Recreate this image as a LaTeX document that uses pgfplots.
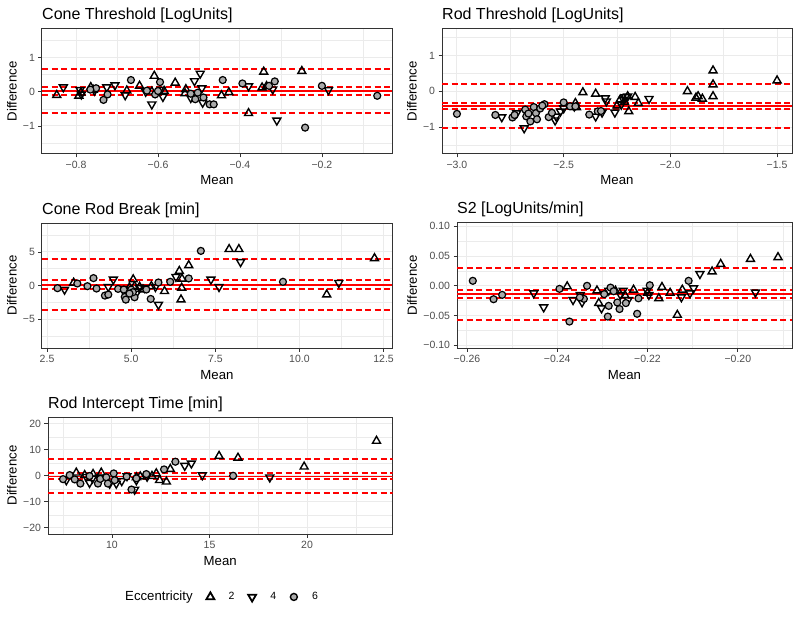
\documentclass[border=0pt]{standalone}
\usepackage{fontspec}
\setmainfont{Liberation Sans}
\usepackage{pgfplots}
\pgfplotsset{compat=1.18}
\definecolor{gridc}{HTML}{EBEBEB}
\definecolor{framec}{HTML}{333333}
\definecolor{tickc}{HTML}{4D4D4D}
\definecolor{ptfill}{HTML}{AAAAAA}
\definecolor{lred}{HTML}{FF0000}
\pgfplotsset{
 ba/.style={
  scale only axis, anchor=south west,
  axis line style={framec, line width=1pt},
  tick style={framec, line width=0.8pt},
  major tick length=3.5pt, minor tick length=0pt,
  tick align=outside, xtick pos=bottom, ytick pos=left,
  grid=both,
  major grid style={gridc, line width=1pt},
  minor grid style={gridc, line width=0.5pt},
  ticklabel style={font=\fontsize{10.5}{12}\selectfont, text=tickc},
  label style={font=\fontsize{13.2}{15}\selectfont},
  title style={font=\fontsize{16}{19}\selectfont, at={(axis description cs:0,1)}, anchor=base west, inner sep=0pt, yshift=3pt},
  xlabel={Mean}, ylabel={Difference},
  xlabel style={at={(axis description cs:0.5,0)}, anchor=base, yshift=-31pt},
  unbounded coords=jump,
 },
 up/.style={only marks, mark=triangle, mark size=4.6pt, mark options={draw=black, line width=1.4pt, fill=none}},
 dn/.style={only marks, mark=triangle, mark size=4.6pt, mark options={rotate=180, draw=black, line width=1.4pt, fill=none}},
 ci/.style={only marks, mark=*, mark size=3.5pt, mark options={draw=black, fill=ptfill, line width=1.2pt}},
 dl/.style={draw=lred, line width=1.6pt, dash pattern=on 6pt off 3.5pt, line cap=butt, no marks, forget plot},
 sl/.style={draw=lred, line width=1.5pt, solid, no marks, forget plot},
}
\begin{document}
\begin{tikzpicture}
\path[use as bounding box] (0pt,0pt) rectangle (800pt,622pt);

% Panel 1
\begin{axis}[ba, at={(42pt,468pt)}, width=350pt, height=125pt,
  title={Cone Threshold [LogUnits]},
  xmin=-0.883, xmax=-0.029, ymin=-1.82, ymax=1.83,
  xtick={-0.8,-0.6,-0.4,-0.2}, xticklabels={−0.8,−0.6,−0.4,−0.2},
  minor xtick={-0.7,-0.5,-0.3,-0.1},
  ytick={-1,0,1}, yticklabels={−1,0,1}, minor ytick={-1.5,-0.5,0.5,1.5},
  ylabel style={at={(axis description cs:-0.0857,0.5)}, anchor=center}]
\addplot[up] coordinates {(-0.847,-0.10) (-0.793,-0.12) (-0.788,-0.03) (-0.764,0.13) (-0.758,0.05) (-0.676,0.03) (-0.645,0.17) (-0.609,0.46) (-0.558,0.26) (-0.532,0.07) (-0.534,-0.05) (-0.445,-0.11) (-0.427,-0.02) (-0.379,-0.63) (-0.346,0.12) (-0.342,0.58) (-0.335,0.16) (-0.249,0.60) (-0.585,0.02) (-0.615,0.00)};
\addplot[dn] coordinates {(-0.831,0.13) (-0.790,0.05) (-0.787,-0.08) (-0.725,0.13) (-0.705,0.19) (-0.680,-0.10) (-0.615,-0.37) (-0.588,-0.15) (-0.592,0.06) (-0.511,0.31) (-0.497,0.53) (-0.493,0.10) (-0.491,-0.32) (-0.52,-0.18) (-0.379,0.16) (-0.320,0.07) (-0.310,-0.84) (-0.184,0.05) (-0.755,0.03) (-0.63,0.0)};
\addplot[ci] coordinates {(-0.751,0.10) (-0.733,-0.24) (-0.723,-0.08) (-0.666,0.34) (-0.627,0.03) (-0.607,-0.08) (-0.595,0.28) (-0.503,-0.03) (-0.509,-0.22) (-0.489,-0.17) (-0.474,-0.37) (-0.464,-0.37) (-0.442,0.34) (-0.394,0.24) (-0.329,0.17) (-0.315,0.30) (-0.241,-1.05) (-0.200,0.17) (-0.065,-0.12) (-0.765,0.06) (-0.60,0.02) (-0.52,-0.06)};
\addplot[dl] coordinates {(-0.883,0.659) (-0.029,0.659) (-0.029,nan) (-0.883,-0.63) (-0.029,-0.63) (-0.029,nan) (-0.883,0.145) (-0.029,0.145) (-0.029,nan) (-0.883,-0.10) (-0.029,-0.10)};
\addplot[sl] coordinates {(-0.883,0.02) (-0.029,0.02)};
\end{axis}

% Panel 2
\begin{axis}[ba, at={(442pt,468pt)}, width=350pt, height=125pt,
  title={Rod Threshold [LogUnits]},
  xmin=-3.07, xmax=-1.43, ymin=-1.75, ymax=1.74,
  xtick={-3,-2.5,-2,-1.5}, xticklabels={−3.0,−2.5,−2.0,−1.5},
  minor xtick={-2.75,-2.25,-1.75},
  ytick={-1,0,1}, yticklabels={−1,0,1}, minor ytick={-1.5,-0.5,0.5,1.5},
  ylabel style={at={(axis description cs:-0.0857,0.5)}, anchor=center}]
\addplot[up] coordinates {(-2.41,-0.03) (-2.35,-0.07) (-2.445,-0.33) (-2.235,-0.23) (-2.215,-0.30) (-2.195,-0.56) (-2.165,-0.16) (-2.15,-0.33) (-2.20,-0.14) (-1.92,0.00) (-1.87,-0.14) (-1.88,-0.18) (-1.85,-0.21) (-1.80,0.58) (-1.80,0.19) (-1.80,-0.14) (-1.50,0.30) (-2.44,-0.45) (-2.25,-0.40)};
\addplot[dn] coordinates {(-2.79,-0.72) (-2.72,-0.61) (-2.685,-1.03) (-2.54,-0.81) (-2.535,-0.70) (-2.515,-0.56) (-2.50,-0.47) (-2.35,-0.70) (-2.32,-0.59) (-2.305,-0.19) (-2.30,-0.28) (-2.26,-0.59) (-2.22,-0.23) (-2.20,-0.14) (-2.23,-0.37) (-2.10,-0.21) (-2.45,-0.42) (-2.21,-0.16)};
\addplot[ci] coordinates {(-3.00,-0.63) (-2.82,-0.66) (-2.74,-0.73) (-2.73,-0.66) (-2.68,-0.51) (-2.675,-0.70) (-2.656,-0.84) (-2.64,-0.44) (-2.63,-0.61) (-2.625,-0.78) (-2.61,-0.48) (-2.59,-0.36) (-2.57,-0.72) (-2.555,-0.60) (-2.50,-0.31) (-2.47,-0.42) (-2.445,-0.42) (-2.38,-0.65) (-2.34,-0.56) (-2.325,-0.55) (-2.60,-0.40) (-2.665,-0.62)};
\addplot[dl] coordinates {(-3.07,0.21) (-1.43,0.21) (-1.43,nan) (-3.07,-1.02) (-1.43,-1.02) (-1.43,nan) (-3.07,-0.33) (-1.43,-0.33) (-1.43,nan) (-3.07,-0.49) (-1.43,-0.49)};
\addplot[sl] coordinates {(-3.07,-0.41) (-1.43,-0.41)};
\end{axis}

% Panel 3
\begin{axis}[ba, at={(42pt,274pt)}, width=350pt, height=125pt,
  title={Cone Rod Break [min]},
  xmin=2.35, xmax=12.75, ymin=-9.3, ymax=9.3,
  xtick={2.5,5,7.5,10,12.5}, xticklabels={2.5,5.0,7.5,10.0,12.5},
  minor xtick={3.75,6.25,8.75,11.25},
  ytick={-5,0,5}, yticklabels={−5,0,5}, minor ytick={-7.5,-2.5,2.5,7.5},
  ylabel style={at={(axis description cs:-0.0857,0.5)}, anchor=center}]
\addplot[up] coordinates {(3.29,0.4) (5.06,0.9) (5.10,-0.1) (5.25,-0.2) (5.35,-0.6) (5.99,-0.85) (6.43,2.15) (6.71,3.0) (6.50,-0.35) (6.48,-2.1) (6.51,1.0) (7.91,5.4) (8.20,5.4) (10.81,-1.35) (12.23,4.05) (5.60,-0.1) (4.95,-0.3)};
\addplot[dn] coordinates {(3.02,-0.6) (4.32,-0.2) (4.47,0.9) (4.74,-0.5) (4.90,-0.7) (5.25,-0.35) (5.40,-0.35) (5.81,-2.85) (6.33,1.3) (7.37,0.9) (7.61,-0.2) (8.25,3.5) (11.17,0.4) (5.72,-0.2) (5.15,-1.2) (4.85,-0.8)};
\addplot[ci] coordinates {(2.81,-0.4) (3.40,0.3) (3.70,-0.1) (3.88,1.1) (3.97,-0.45) (4.22,-1.5) (4.32,-1.35) (4.61,-0.5) (4.78,-0.6) (4.81,-1.7) (4.84,-2.1) (5.00,-0.6) (5.10,-1.75) (5.05,-1.0) (5.45,-0.6) (5.58,-2.0) (5.81,0.45) (6.16,0.55) (6.71,1.05) (7.07,5.15) (9.51,0.55) (4.95,-1.2)};
\addplot[dl] coordinates {(2.35,3.9) (12.75,3.9) (12.75,nan) (2.35,-3.66) (12.75,-3.66) (12.75,nan) (2.35,0.8) (12.75,0.8) (12.75,nan) (2.35,-0.5) (12.75,-0.5)};
\addplot[sl] coordinates {(2.35,0.1) (12.75,0.1)};
\end{axis}

% Panel 4
\begin{axis}[ba, at={(457pt,274pt)}, width=335pt, height=125pt,
  title={S2 [LogUnits/min]},
  xmin=-0.2622, xmax=-0.188, ymin=-0.1045, ymax=0.1056,
  xtick={-0.26,-0.24,-0.22,-0.20}, xticklabels={−0.26,−0.24,−0.22,−0.20},
  minor xtick={-0.25,-0.23,-0.21,-0.19},
  ytick={-0.1,-0.05,0,0.05,0.1}, yticklabels={−0.10,−0.05,0.00,0.05,0.10},
  minor ytick={-0.075,-0.025,0.025,0.075},
  ylabel style={at={(axis description cs:-0.134,0.5)}, anchor=center}]
\addplot[up] coordinates {(-0.2378,-0.0011) (-0.2308,-0.029) (-0.2312,-0.008) (-0.2271,-0.0084) (-0.2231,-0.0067) (-0.2168,-0.0022) (-0.2150,-0.012) (-0.2175,-0.021) (-0.2134,-0.049) (-0.2123,-0.0067) (-0.2057,0.024) (-0.2038,0.0365) (-0.1972,0.045) (-0.1911,0.048) (-0.2250,-0.016) (-0.2200,-0.012)};
\addplot[dn] coordinates {(-0.2452,-0.0124) (-0.2430,-0.036) (-0.2365,-0.0236) (-0.2349,-0.0152) (-0.2345,-0.0275) (-0.2302,-0.0376) (-0.2286,-0.0079) (-0.2254,-0.0079) (-0.2243,-0.0236) (-0.2201,-0.0079) (-0.2197,-0.015) (-0.2125,-0.019) (-0.2106,-0.0124) (-0.2098,-0.0039) (-0.2084,0.020) (-0.1961,-0.011) (-0.2260,-0.015)};
\addplot[ci] coordinates {(-0.2587,0.0084) (-0.2541,-0.0225) (-0.2522,-0.0152) (-0.2395,-0.0051) (-0.2373,-0.0601) (-0.2341,-0.0219) (-0.2334,0.0) (-0.2296,-0.014) (-0.2288,-0.0517) (-0.2286,-0.0337) (-0.2282,-0.003) (-0.2267,-0.028) (-0.2262,-0.039) (-0.2248,-0.029) (-0.2223,-0.047) (-0.2220,-0.021) (-0.2195,0.001) (-0.2109,0.0084) (-0.2350,-0.0195) (-0.2275,-0.009)};
\addplot[dl] coordinates {(-0.2622,0.0298) (-0.188,0.0298) (-0.188,nan) (-0.2622,-0.0573) (-0.188,-0.0573) (-0.188,nan) (-0.2622,-0.0067) (-0.188,-0.0067) (-0.188,nan) (-0.2622,-0.0202) (-0.188,-0.0202)};
\addplot[sl] coordinates {(-0.2622,-0.0135) (-0.188,-0.0135)};
\end{axis}

% Panel 5
\begin{axis}[ba, at={(48pt,88pt)}, width=344.5pt, height=117pt,
  title={Rod Intercept Time [min]},
  xmin=6.72, xmax=24.38, ymin=-22.4, ymax=22.6,
  xtick={10,15,20}, xticklabels={10,15,20}, minor xtick={7.5,12.5,17.5,22.5},
  ytick={-20,-10,0,10,20}, yticklabels={−20,−10,0,10,20},
  minor ytick={-15,-5,5,15},
  ylabel style={at={(axis description cs:-0.105,0.5)}, anchor=center},
  legend image code/.code={\path (0pt,0pt) (16pt,0pt); \draw[#1] plot coordinates {(8pt,0pt)};},
  legend style={at={(axis description cs:0.1945,-0.538)}, anchor=west, draw=none, fill=none,
    font=\fontsize{10.5}{12}\selectfont, inner sep=0pt,
    /tikz/every odd column/.append style={column sep=8pt},
    /tikz/every even column/.append style={column sep=7.5pt}},
  legend columns=4]
\addlegendimage{empty legend}
\addlegendentry{\fontsize{13.2}{15}\selectfont Eccentricity}
\addlegendimage{only marks, mark=triangle, mark size=4.6pt, mark options={draw=black, line width=1.8pt, fill=none}}
\addlegendentry{2}
\addlegendimage{only marks, mark=triangle, mark size=4.6pt, mark options={rotate=180, draw=black, line width=1.8pt, fill=none}}
\addlegendentry{4}
\addlegendimage{only marks, mark=*, mark size=3.5pt, mark options={draw=black, fill=ptfill, line width=1.4pt}}
\addlegendentry{6}
\addplot[up, forget plot] coordinates {(8.17,1.16) (9.03,0.64) (9.45,1.16) (11.25,-0.6) (12.27,0.9) (12.44,-1.7) (12.79,-2.3) (12.99,2.57) (15.49,7.6) (16.46,6.9) (19.85,3.47) (23.56,13.4) (12.05,-0.1) (11.45,-0.3) (8.6,0.2)};
\addplot[dn, forget plot] coordinates {(7.66,-1.7) (8.68,-0.4) (8.85,-2.7) (9.35,-0.7) (9.88,-3.0) (10.22,-3.0) (10.77,-0.1) (11.16,-5.3) (11.25,-1.7) (13.73,3.86) (14.07,4.76) (14.63,0.26) (18.09,-0.6) (11.8,-0.3) (10.5,-2.0) (9.0,-1.0)};
\addplot[ci, forget plot] coordinates {(7.49,-1.3) (7.83,0.26) (8.09,-1.4) (8.38,-3.0) (8.85,-0.1) (9.28,-3.0) (9.40,-1.2) (9.71,-0.6) (9.79,-3.0) (10.09,0.9) (10.14,-1.7) (10.75,-0.3) (11.00,-5.3) (11.25,-1.0) (11.76,0.64) (12.67,2.44) (13.25,5.4) (16.21,0.0)};
\addplot[dl] coordinates {(6.72,6.41) (24.38,6.41) (24.38,nan) (6.72,-6.67) (24.38,-6.67) (24.38,nan) (6.72,1.16) (24.38,1.16) (24.38,nan) (6.72,-1.285) (24.38,-1.285)};
\addplot[sl] coordinates {(6.72,-0.26) (24.38,-0.26)};
\end{axis}
\end{tikzpicture}
\end{document}
